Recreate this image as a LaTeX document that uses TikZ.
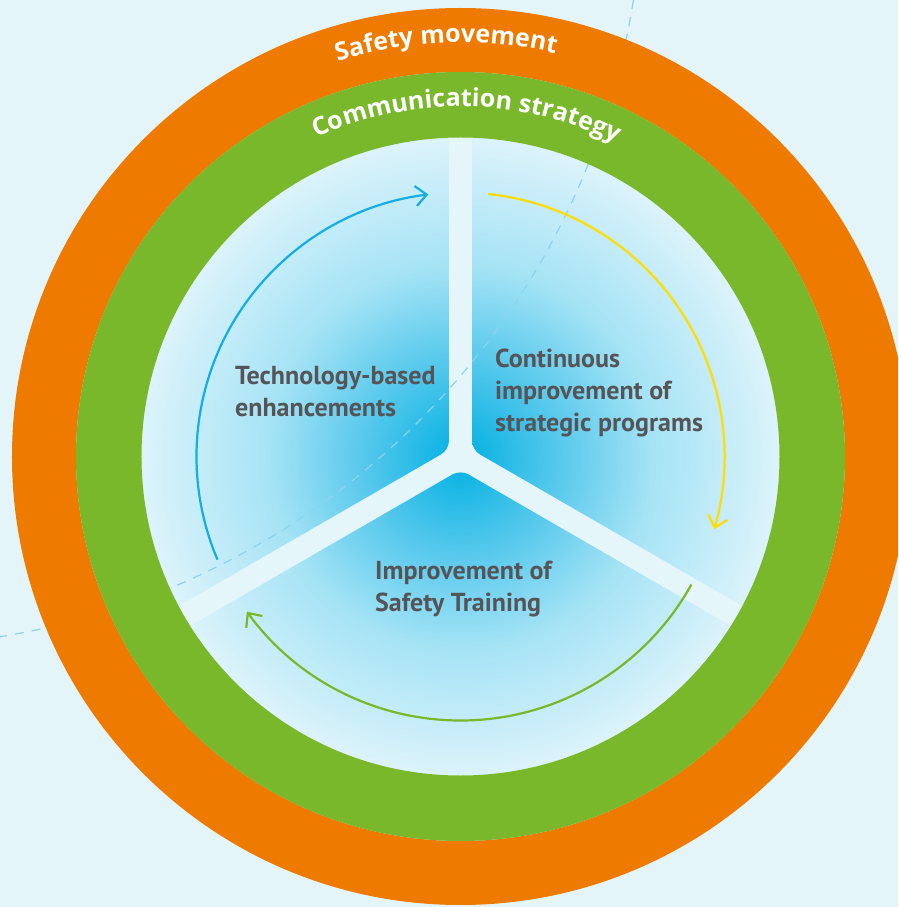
\documentclass[tikz,border=0pt]{standalone}
\usepackage{fontspec}
\setmainfont{PT Sans}
\newfontfamily\ringfont{Open Sans}
\usetikzlibrary{arrows.meta,calc,decorations.text}

\definecolor{bgblue}{RGB}{228,245,250}
\definecolor{paleblue}{RGB}{229,246,251}
\definecolor{hubblue}{RGB}{0,176,226}
\definecolor{innerblue}{RGB}{85,200,236}
\definecolor{midblue}{RGB}{165,227,245}
\definecolor{rimblue}{RGB}{220,243,251}
\definecolor{ringorange}{RGB}{238,122,0}
\definecolor{ringgreen}{RGB}{121,183,43}
\definecolor{arrowblue}{RGB}{20,174,227}
\definecolor{arrowyellow}{RGB}{255,221,0}
\definecolor{dashblue}{RGB}{140,211,238}
\definecolor{labelgray}{RGB}{85,85,87}

\pgfdeclareradialshading{sectorglow}{\pgfpoint{0bp}{0bp}}{color(0bp)=(hubblue); color(7.5bp)=(innerblue); color(15bp)=(midblue); color(25bp)=(rimblue); color(50bp)=(rimblue)}

\begin{document}
\begin{tikzpicture}[x=1pt,y=1pt,
  label text/.style={text=labelgray, font=\bfseries\fontsize{26}{32}\selectfont, align=left, anchor=base west, inner sep=0pt},
  cycle arrow/.style={line width=2.2pt, -{Straight Barb[length=11pt,width=20pt]}},
  ring text/.style={decorate, decoration={text along path, text align=center, text={#1}}}]
\useasboundingbox (-460.5,-450.5) rectangle (437.5,456.5);
\clip (-460.5,-450.5) rectangle (437.5,456.5);
\fill[bgblue] (-460.5,-450.5) rectangle (437.5,456.5);
\fill[paleblue] (0,0) circle (319);
\foreach \b in {30,150,270} {
  \begin{scope}
    \clip[rounded corners=9] (\b:13.3) -- ($(\b:13.3)+(\b-60:430)$) -- (\b:600) -- ($(\b:13.3)+(\b+60:430)$) -- cycle;
    \shade[shading=sectorglow] (0,0) circle (319);
  \end{scope}
}
\coordinate (arc centre) at (-585.5,577.5);
\draw[dashblue, line width=1.2pt, dash pattern=on 9pt off 8pt] (arc centre) ++(-4:768) arc[start angle=-4, end angle=-86, radius=768];
\fill[ringorange, even odd rule] (0,0) circle (448.5) circle (384.5);
\fill[ringgreen, even odd rule] (0,0) circle (384.5) circle (319);
\path[ring text={|\ringfont\bfseries\fontsize{25}{25}\selectfont\color{white}|Safety movement}] (152:414) arc[start angle=152, end angle=32, radius=414];
\path[ring text={|\ringfont\bfseries\fontsize{25}{25}\selectfont\color{white}|Communication strategy}] (149:350) arc[start angle=149, end angle=29, radius=350];
\node[label text] (tech) at (-225.5,39.5) {Technology-based\\enhancements};
\node[label text] (cont) at (34.5,24.5) {Continuous\\improvement of\\strategic programs};
\node[label text] (train) at (-85.5,-155.2) {Improvement of\\Safety Training};
\coordinate (blue start) at (203:264);
\draw[cycle arrow, arrowblue] (blue start) arc[start angle=203, end angle=97, radius=264];
\coordinate (yellow start) at (84:264);
\draw[cycle arrow, arrowyellow] (yellow start) arc[start angle=84, end angle=-16, radius=264];
\coordinate (green start) at (-29:264);
\draw[cycle arrow, ringgreen] (green start) arc[start angle=-29, end angle=-144, radius=264];
\end{tikzpicture}
\end{document}
